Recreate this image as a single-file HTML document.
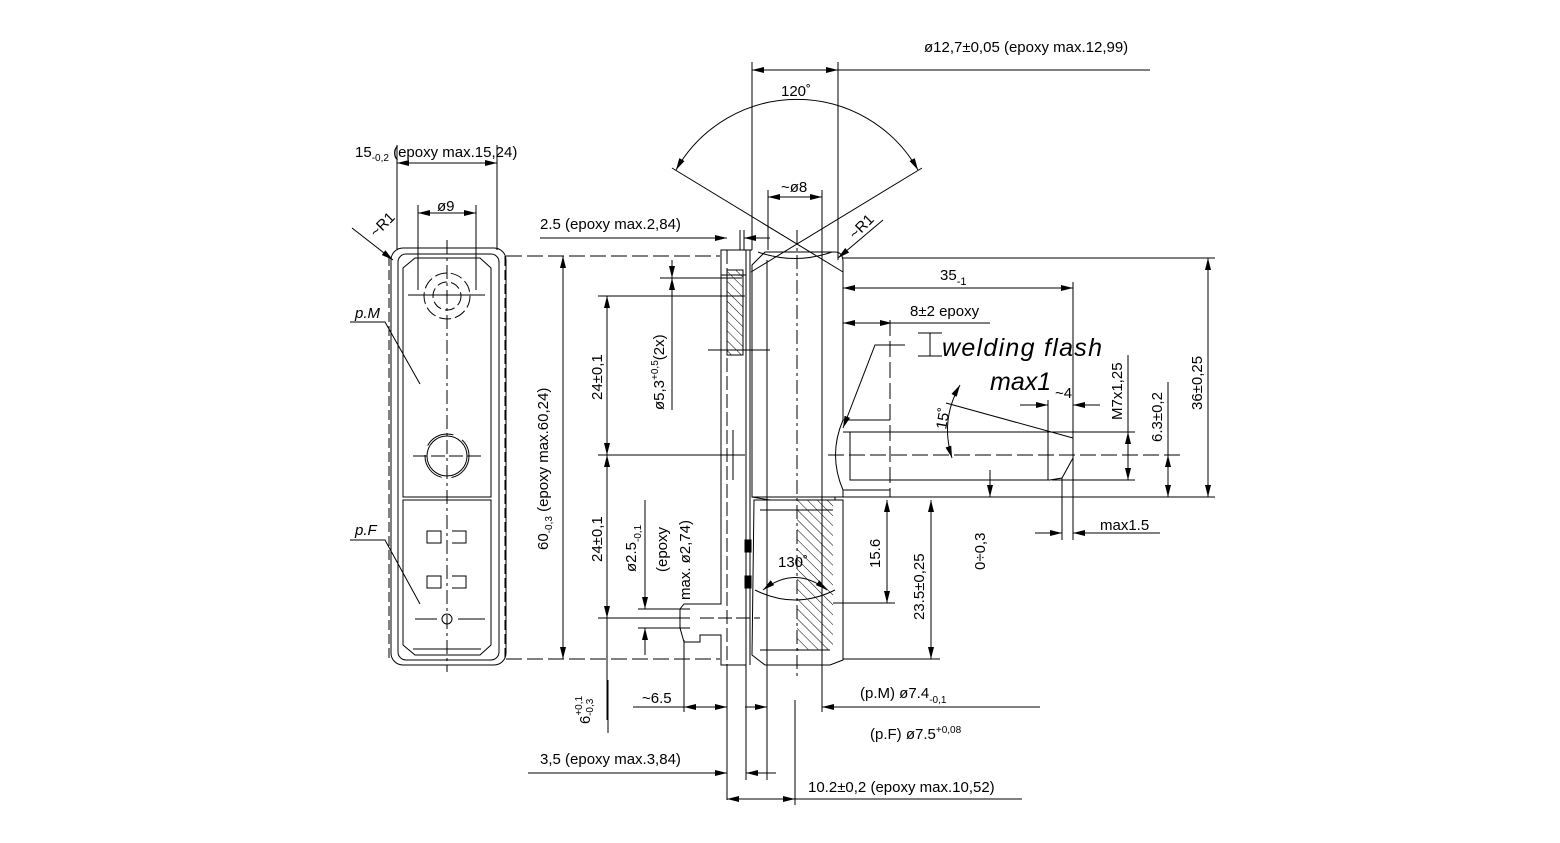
<!DOCTYPE html>
<html><head><meta charset="utf-8"><style>
html,body{margin:0;padding:0;background:#fff;}
svg{display:block;font-size:15px;font-family:"Liberation Sans",sans-serif;}
text{fill:#000;}
</style></head><body>
<svg width="1560" height="843" viewBox="0 0 1560 843" xmlns="http://www.w3.org/2000/svg">
<defs>
<marker id="a" viewBox="0 0 12 6" refX="12" refY="3" markerWidth="12" markerHeight="6" orient="auto-start-reverse" markerUnits="userSpaceOnUse"><path d="M0,0 L12,3 L0,6z" fill="#000"/></marker>
<pattern id="h" patternUnits="userSpaceOnUse" width="7" height="7" patternTransform="rotate(-45)"><line x1="0" y1="0" x2="0" y2="7" stroke="#000" stroke-width="1"/></pattern>
</defs>
<g fill="none" stroke="#000" stroke-width="1">
<rect x="391" y="248" width="115" height="417" rx="12"/>
<rect x="398" y="254" width="101" height="406" rx="8"/>
<path d="M403,268 L415,258 L480,258 L491,268 L491,497 L403,497 Z"/>
<path d="M403,500 L491,500 L491,645 L480,655 L415,655 L403,645 Z"/>
<line x1="447" y1="240" x2="447" y2="672" stroke-dasharray="14,4,3,4"/>
<line x1="389" y1="256" x2="389" y2="660" stroke-dasharray="10,4"/>
<line x1="505" y1="256" x2="505" y2="660" stroke-dasharray="10,4"/>
<circle cx="447" cy="296" r="23" stroke-dasharray="12,4"/>
<circle cx="447" cy="296" r="14" stroke-dasharray="10,4"/>
<line x1="408" y1="295" x2="485" y2="295"/>
<circle cx="447" cy="456" r="20"/><circle cx="447" cy="456" r="22" stroke-dasharray="30,10"/>
<line x1="413" y1="456" x2="481" y2="456" stroke-dasharray="14,4"/>
<path d="M427,543 h14 v-12 h-14z M452,531 h14 v12 h-14 M427,588 h14 v-12 h-14z M452,576 h14 v12 h-14"/>
<line x1="415" y1="619" x2="437" y2="619"/><line x1="458" y1="619" x2="485" y2="619"/>
<circle cx="447" cy="619" r="5"/>
<line x1="413" y1="649" x2="481" y2="649"/>
<line x1="397" y1="145" x2="397" y2="250"/><line x1="497" y1="145" x2="497" y2="250"/>
<line x1="397" y1="163" x2="497" y2="163" marker-start="url(#a)" marker-end="url(#a)"/>
<line x1="418" y1="205" x2="418" y2="290"/><line x1="476" y1="205" x2="476" y2="290"/>
<line x1="418" y1="213" x2="476" y2="213" marker-start="url(#a)" marker-end="url(#a)"/>
<line x1="352" y1="228" x2="393" y2="260" marker-end="url(#a)"/>
<path d="M350,322 L385,322 L420,384"/>
<path d="M350,540 L385,540 L420,604"/>
<line x1="506" y1="256" x2="720" y2="256" stroke-dasharray="16,5"/>
<line x1="506" y1="659" x2="720" y2="659" stroke-dasharray="16,5"/>
<line x1="563" y1="256" x2="563" y2="659" marker-start="url(#a)" marker-end="url(#a)"/>
<line x1="598" y1="296" x2="745" y2="296"/>
<line x1="598" y1="455" x2="745" y2="455"/>
<line x1="598" y1="618" x2="690" y2="618"/>
<line x1="607" y1="296" x2="607" y2="455" marker-start="url(#a)" marker-end="url(#a)"/>
<line x1="607" y1="455" x2="607" y2="618" marker-start="url(#a)" marker-end="url(#a)"/>
<line x1="607" y1="618" x2="607" y2="720"/>
<line x1="660" y1="278" x2="742" y2="278"/>
<line x1="672" y1="278" x2="672" y2="410" marker-start="url(#a)"/>
<line x1="672" y1="260" x2="672" y2="278" marker-end="url(#a)"/>
<line x1="645" y1="500" x2="645" y2="609" marker-end="url(#a)"/>
<line x1="645" y1="628" x2="645" y2="655" marker-start="url(#a)"/>
<line x1="638" y1="609" x2="690" y2="609"/><line x1="638" y1="628" x2="690" y2="628"/>
<path d="M721,250 L746,250 L746,665 L721,665 L721,635 L700,635 L700,642 L684,642 L680,628 L680,609 L684,604 L720,604 L721,604 Z"/>
<line x1="700" y1="618" x2="760" y2="618" stroke-dasharray="14,4"/>
<line x1="727" y1="250" x2="727" y2="665" stroke-dasharray="14,4"/>
<line x1="721" y1="275" x2="746" y2="275"/>
<rect x="727" y="270" width="16" height="85" fill="url(#h)"/>
<line x1="733" y1="430" x2="733" y2="480"/>
<line x1="708" y1="350" x2="770" y2="350"/>
<rect x="745" y="540" width="6" height="12" fill="#000"/>
<rect x="745" y="576" width="6" height="12" fill="#000"/>
<line x1="746" y1="250" x2="752" y2="250"/><line x1="750" y1="250" x2="750" y2="665"/>
<path d="M752,265 L765,252 L835,252 Q843,252 843,262 L843,420 Q828,455 843,490 L843,497 L752,497 Z"/>
<path d="M752,497 L770,500 L835,500 L835,497"/>
<path d="M754,500 L843,500 L843,660 L830,665 L765,665 L752,655 Z"/>
<path d="M758,252 Q795,265 832,252"/>
<line x1="797" y1="230" x2="797" y2="680" stroke-dasharray="14,4,3,4"/>
<line x1="767" y1="260" x2="767" y2="780"/>
<line x1="822" y1="250" x2="822" y2="712"/>
<rect x="797" y="500" width="36" height="150" fill="url(#h)" stroke="none"/>
<line x1="760" y1="510" x2="833" y2="510"/>
<path d="M755,590 Q795,610 835,590"/>
<line x1="760" y1="650" x2="830" y2="650"/>
<path d="M843,432 L1073,432 L1073,458 L1062,478 L1050,480 L850,480 L850,432"/>
<line x1="843" y1="420" x2="890" y2="420"/><line x1="890" y1="320" x2="890" y2="497" stroke-dasharray="16,5"/>
<line x1="843" y1="490" x2="890" y2="490"/>
<line x1="828" y1="455" x2="1180" y2="455" stroke-dasharray="16,5"/>
<line x1="1048" y1="400" x2="1048" y2="480"/>
<line x1="1073" y1="282" x2="1073" y2="540"/><line x1="1062" y1="478" x2="1062" y2="540"/>
<line x1="843" y1="497" x2="1215" y2="497"/>
<line x1="843" y1="258" x2="1215" y2="258"/>
<line x1="1052" y1="432" x2="1135" y2="432"/><line x1="1052" y1="480" x2="1135" y2="480"/>
<line x1="946" y1="403" x2="1073" y2="438"/>
<path d="M960,385 Q940,420 952,458" marker-start="url(#a)" marker-end="url(#a)"/>
<line x1="1128" y1="355" x2="1128" y2="480" /><line x1="1128" y1="432" x2="1128" y2="480" marker-start="url(#a)" marker-end="url(#a)"/>
<line x1="1168" y1="382" x2="1168" y2="497"/><line x1="1168" y1="455" x2="1168" y2="497" marker-start="url(#a)" marker-end="url(#a)"/>
<line x1="1208" y1="258" x2="1208" y2="497" marker-start="url(#a)" marker-end="url(#a)"/>
<line x1="1020" y1="405" x2="1048" y2="405" marker-end="url(#a)"/><line x1="1100" y1="405" x2="1073" y2="405" marker-end="url(#a)"/>
<line x1="1035" y1="533" x2="1062" y2="533" marker-end="url(#a)"/><line x1="1160" y1="533" x2="1073" y2="533" marker-end="url(#a)"/>
<line x1="990" y1="470" x2="990" y2="497" marker-end="url(#a)"/>
<line x1="843" y1="288" x2="1073" y2="288" marker-start="url(#a)" marker-end="url(#a)"/>
<line x1="843" y1="323" x2="892" y2="323" marker-start="url(#a)" marker-end="url(#a)"/>
<line x1="892" y1="323" x2="990" y2="323"/>
<path d="M905,345 L875,345 L843,428" marker-end="url(#a)"/>
<path d="M918,333 h24 M918,356 h24 M930,333 v23"/>
<line x1="833" y1="603" x2="895" y2="603"/>
<line x1="887" y1="500" x2="887" y2="603" marker-start="url(#a)" marker-end="url(#a)"/>
<line x1="931" y1="500" x2="931" y2="659" marker-start="url(#a)" marker-end="url(#a)"/>
<line x1="843" y1="659" x2="940" y2="659"/>
<path d="M763,590 Q795,565 827,590" marker-start="url(#a)" marker-end="url(#a)"/>
<line x1="752" y1="62" x2="752" y2="250"/><line x1="838" y1="62" x2="838" y2="260"/>
<line x1="752" y1="70" x2="838" y2="70" marker-start="url(#a)" marker-end="url(#a)"/>
<line x1="838" y1="70" x2="1150" y2="70"/>
<line x1="672" y1="168" x2="843" y2="272"/><line x1="922" y1="168" x2="751" y2="272"/>
<path d="M676,170 A139,139 0 0 1 918,170" marker-start="url(#a)" marker-end="url(#a)"/>
<line x1="768" y1="190" x2="768" y2="250"/><line x1="822" y1="190" x2="822" y2="250"/>
<line x1="768" y1="197" x2="822" y2="197" marker-start="url(#a)" marker-end="url(#a)"/>
<line x1="883" y1="220" x2="838" y2="258" marker-end="url(#a)"/>
<line x1="765" y1="252" x2="825" y2="252"/>
<line x1="540" y1="238" x2="721" y2="238"/>
<line x1="706" y1="238" x2="727" y2="238" marker-end="url(#a)"/><line x1="770" y1="238" x2="744" y2="238" marker-end="url(#a)"/>
<line x1="740" y1="230" x2="740" y2="250"/><line x1="744" y1="230" x2="744" y2="250"/>
<line x1="727" y1="665" x2="727" y2="800"/><line x1="746" y1="665" x2="746" y2="780"/>
<line x1="684" y1="640" x2="684" y2="712"/>
<line x1="633" y1="707" x2="684" y2="707"/>
<line x1="684" y1="707" x2="727" y2="707" marker-start="url(#a)" marker-end="url(#a)"/>
<line x1="745" y1="707" x2="767" y2="707" marker-end="url(#a)"/><line x1="1040" y1="707" x2="822" y2="707" marker-end="url(#a)"/>
<line x1="528" y1="773" x2="727" y2="773" marker-end="url(#a)"/><line x1="776" y1="773" x2="746" y2="773" marker-end="url(#a)"/>
<line x1="727" y1="799" x2="795" y2="799" marker-start="url(#a)" marker-end="url(#a)"/>
<line x1="795" y1="799" x2="1022" y2="799"/>
<line x1="795" y1="700" x2="795" y2="805"/>
<line x1="608" y1="680" x2="608" y2="733"/>
</g>
<g>
<text x="924" y="52">ø12,7±0,05 (epoxy max.12,99)</text>
<text x="781" y="96">120˚</text>
<text x="781" y="192">~ø8</text>
<text x="355" y="157">15<tspan font-size="10" dy="4">-0,2</tspan><tspan dy="-4"> (epoxy max.15,24)</tspan></text>
<text x="437" y="211">ø9</text>
<text x="540" y="229">2.5 (epoxy max.2,84)</text>
<text x="940" y="280">35<tspan font-size="11" dy="5">-1</tspan></text>
<text x="910" y="316">8±2 epoxy</text>
<text x="942" y="356" font-size="25" font-style="italic" textLength="160">welding  flash</text>
<text x="990" y="390" font-size="25" font-style="italic">max1</text>
<text x="1055" y="398">~4</text>
<text x="860" y="698">(p.M)  ø7.4<tspan font-size="10" dy="5">-0,1</tspan></text>
<text x="870" y="739">(p.F)  ø7.5<tspan font-size="10" dy="-6">+0,08</tspan></text>
<text x="540" y="764">3,5 (epoxy max.3,84)</text>
<text x="808" y="792">10.2±0,2 (epoxy max.10,52)</text>
<text x="642" y="703">~6.5</text>
<text x="1100" y="530">max1.5</text>
<text x="778" y="567">130˚</text>
<text x="355" y="318" font-style="italic">p.M</text>
<text x="355" y="535" font-style="italic">p.F</text>
<text transform="translate(376,238) rotate(-45)">~R1</text>
<text transform="translate(855,240) rotate(-45)">~R1</text>
<text transform="translate(548,550) rotate(-90)">60<tspan font-size="10" dy="4">-0,3</tspan><tspan dy="-4"> (epoxy max.60,24)</tspan></text>
<text transform="translate(602,400) rotate(-90)">24±0,1</text>
<text transform="translate(602,562) rotate(-90)">24±0,1</text>
<text transform="translate(664,410) rotate(-90)">ø5,3<tspan font-size="10" dy="-6">+0,5</tspan><tspan dy="6">(2x)</tspan></text>
<text transform="translate(636,572) rotate(-90)">ø2.5<tspan font-size="10" dy="5">-0,1</tspan></text>
<text transform="translate(667,572) rotate(-90)">(epoxy</text>
<text transform="translate(690,600) rotate(-90)">max.  ø2,74)</text>
<text transform="translate(880,568) rotate(-90)">15.6</text>
<text transform="translate(924,620) rotate(-90)">23.5±0,25</text>
<text transform="translate(985,570) rotate(-90)">0÷0,3</text>
<text transform="translate(1122,420) rotate(-90)">M7x1,25</text>
<text transform="translate(1162,442) rotate(-90)">6.3±0,2</text>
<text transform="translate(1202,410) rotate(-90)">36±0,25</text>
<text transform="translate(946,430) rotate(-80)">15˚</text>
<text transform="translate(590,724) rotate(-90)">6<tspan font-size="10" dy="-8">+0,1</tspan><tspan font-size="10" dx="-20" dy="11">-0,3</tspan></text>
</g>
</svg>
</body></html>
